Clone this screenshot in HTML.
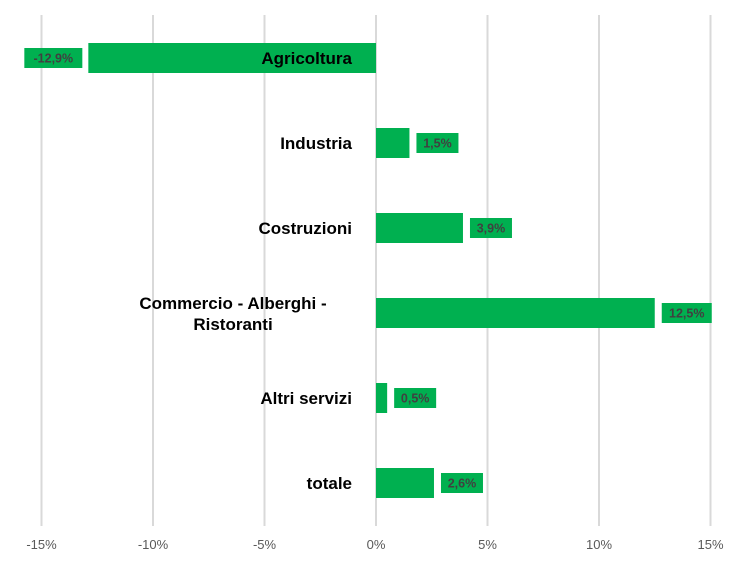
<!DOCTYPE html>
<html><head><meta charset="utf-8"><style>
html,body{margin:0;padding:0;background:#fff;}
svg{display:block;font-family:"Liberation Sans",sans-serif;}
</style></head><body>
<svg id="chart" width="749" height="561" viewBox="0 0 749 561"></svg>
<script>
const categories = ["Agricoltura","Industria","Costruzioni","Commercio - Alberghi - Ristoranti","Altri servizi","totale"];
const values = [-12.9, 1.5, 3.9, 12.5, 0.5, 2.6];
const valueLabels = ["-12,9%","1,5%","3,9%","12,5%","0,5%","2,6%"];
const ticks = [-15,-10,-5,0,5,10,15];
const tickLabels = ["-15%","-10%","-5%","0%","5%","10%","15%"];

const NS = "http://www.w3.org/2000/svg";
const svg = document.getElementById("chart");
const x0 = 376, pxPer = 22.3;
function xs(v){ return x0 + v * pxPer; }
const top0 = 15, bottom0 = 526, bandStart = 15.5, band = 85;
function yc(i){ return bandStart + band*(i+0.5); }
function mk(tag, attrs, parent){
  const e = document.createElementNS(NS, tag);
  for (const k in attrs) e.setAttribute(k, attrs[k]);
  (parent||svg).appendChild(e);
  return e;
}
const grid = mk("g", {});


ticks.forEach((t, i) => {
  const l = mk("line", {x1: xs(t), x2: xs(t), y1: top0, y2: bottom0, stroke: "#d9d9d9", "stroke-width": 2}, grid);
  
  
  const tx = mk("text", {x: xs(t), y: 549, "text-anchor": "middle", "font-size": 13, fill: "#595959"});
  tx.textContent = tickLabels[i];
  
  
});
categories.forEach((c, i) => {
  const v = values[i], cy = yc(i), h = 30;
  const a = xs(Math.min(0, v)), b = xs(Math.max(0, v));
  const r = mk("rect", {x: a, y: cy - h/2, width: b - a, height: h, fill: "#00b050"});
  
  
  // value label box
  const lbl = valueLabels[i];
  const bw = lbl.length * 8 + 10, bh = 20;
  const bx = v >= 0 ? b + 7 : a - 6 - bw;
  const box = mk("rect", {x: bx, y: cy - bh/2, width: bw, height: bh, fill: "#00b050"});
  
  
  const vt = mk("text", {x: bx + bw/2, y: cy + 4.5, "text-anchor": "middle", "font-size": 12.5, "font-weight": "bold", fill: "#404040"});
  vt.textContent = lbl;
  
  
  // category label
  const ct = mk("text", {"font-size": 17, "font-weight": "bold", fill: "#000"});
  
  
  if (c.indexOf(" - Alberghi - ") > 0) {
    ct.setAttribute("text-anchor", "middle");
    const t1 = mk("tspan", {x: 233, y: cy - 4}, ct); t1.textContent = "Commercio - Alberghi -";
    const t2 = mk("tspan", {x: 233, y: cy + 17}, ct); t2.textContent = "Ristoranti";
  } else {
    ct.setAttribute("text-anchor", "end");
    ct.setAttribute("x", 352);
    ct.setAttribute("y", cy + 6);
    ct.textContent = c;
  }
});
</script>
</body></html>
